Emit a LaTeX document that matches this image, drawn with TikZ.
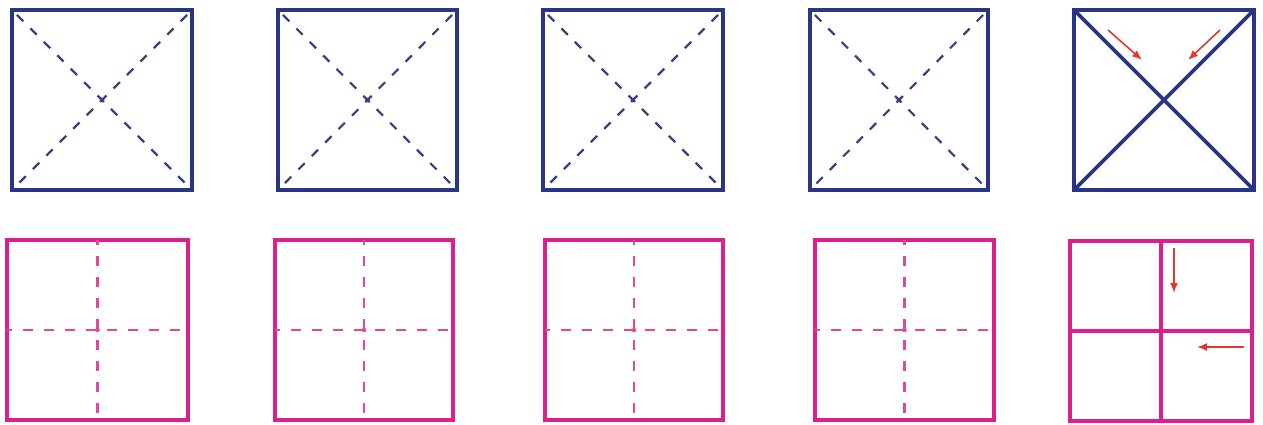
\documentclass[tikz,border=0pt]{standalone}
\usetikzlibrary{arrows.meta}
\definecolor{sqblue}{HTML}{2B3585}
\definecolor{sqpink}{HTML}{DD1F8E}
\definecolor{dashpink}{HTML}{E0489C}
\definecolor{dashblue}{HTML}{3A4180}
\definecolor{arred}{HTML}{E2382E}
\tikzset{
  bluesq/.style={draw=sqblue, line width=3.6pt, inner sep=0pt, outer sep=0pt},
  pinksq/.style={draw=sqpink, line width=3.4pt, inner sep=0pt, outer sep=0pt},
  bluedash/.style={draw=dashblue, line width=2.2pt, dash pattern=on 9pt off 10pt},
  pinkdash/.style={draw=dashpink, line width=2.4pt, dash pattern=on 10pt off 11pt, dash phase=5pt},
  bluesolid/.style={draw=sqblue, line width=3.6pt},
  pinksolid/.style={draw=sqpink, line width=3.4pt},
  redarrow/.style={draw=arred, line width=1.6pt, -{Latex[length=10pt,width=8pt]}},
  cdot/.style={circle, inner sep=0pt, minimum size=4.5pt},
}
\begin{document}
\begin{tikzpicture}[x=1pt,y=-1pt]
\useasboundingbox (0,0) rectangle (1263,425);
% top row
\foreach \n/\l/\r in {1/12/192, 2/278/457, 3/543/723, 4/810/988}{
  \node[bluesq, minimum width={\r-\l}, minimum height=180] (t\n) at ({(\l+\r)/2},100) {};
  \draw[bluedash, shorten <=7pt, shorten >=7pt] (t\n.north west) -- (t\n.south east);
  \draw[bluedash, shorten <=7pt, shorten >=7pt] (t\n.north east) -- (t\n.south west);
  \node[cdot, fill=dashblue] (tc\n) at (t\n.center) {};
}
\node[bluesq, minimum width=180, minimum height=180] (t5) at (1164,100) {};
\draw[bluesolid] (t5.north west) -- (t5.south east);
\draw[bluesolid] (t5.north east) -- (t5.south west);
\coordinate (a1s) at (1108,30); \coordinate (a1e) at (1142,60);
\coordinate (a2s) at (1220,30); \coordinate (a2e) at (1188,60);
\draw[redarrow] (a1s) -- (a1e);
\draw[redarrow] (a2s) -- (a2e);
% bottom row
\foreach \n/\l/\r in {1/7/188, 2/275/453, 3/545/723, 4/815/994}{
  \node[pinksq, minimum width={\r-\l}, minimum height=180] (b\n) at ({(\l+\r)/2},330) {};
  \draw[pinkdash] (b\n.north) -- (b\n.south);
  \draw[pinkdash] (b\n.west) -- (b\n.east);
  \node[cdot, fill=dashpink] (bc\n) at (b\n.center) {};
}
\node[pinksq, minimum width=182, minimum height=180] (b5) at (1161,331) {};
\draw[pinksolid] (b5.north) -- (b5.south);
\draw[pinksolid] (b5.west) -- (b5.east);
\coordinate (a3s) at (1174,248); \coordinate (a3e) at (1174,293);
\coordinate (a4s) at (1244,347); \coordinate (a4e) at (1197,347);
\draw[redarrow] (a3s) -- (a3e);
\draw[redarrow] (a4s) -- (a4e);
\end{tikzpicture}
\end{document}
